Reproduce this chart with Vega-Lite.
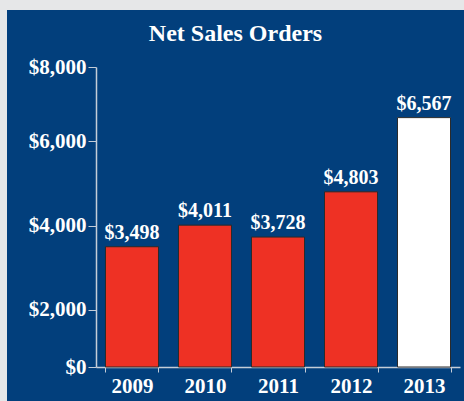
{
  "$schema": "https://vega.github.io/schema/vega-lite/v6.json",
  "width": 457,
  "height": 391,
  "autosize": "none",
  "padding": {"left": 7, "top": 10, "right": 0, "bottom": 0},
  "background": "#e6e7e8",
  "config": {
    "view": {"fill": "#023f7c", "stroke": null},
    "font": "Liberation Serif"
  },
  "title": {
    "text": "Net Sales Orders",
    "font": "Liberation Serif",
    "fontWeight": "bold",
    "fontSize": 24,
    "color": "white",
    "anchor": "middle",
    "baseline": "alphabetic",
    "offset": -55
  },
  "data": {
    "values": [
      {"year": "2009", "sales": 3498, "kind": "past"},
      {"year": "2010", "sales": 4011, "kind": "past"},
      {"year": "2011", "sales": 3728, "kind": "past"},
      {"year": "2012", "sales": 4803, "kind": "past"},
      {"year": "2013", "sales": 6567, "kind": "current"}
    ]
  },
  "encoding": {
    "x": {
      "field": "year",
      "type": "nominal",
      "sort": null,
      "scale": {"range": [89, 453], "paddingInner": 0.274, "paddingOuter": 0.13},
      "axis": {
        "title": null,
        "offset": -34,
        "labelAngle": 0,
        "labelFont": "Liberation Serif",
        "labelFontWeight": "bold",
        "labelFontSize": 21,
        "labelColor": "white",
        "labelPadding": 3,
        "tickBand": "extent",
        "tickSize": 5,
        "tickColor": "#c5cdd8",
        "domainColor": "#c5cdd8",
        "domainWidth": 1.5
      }
    },
    "y": {
      "field": "sales",
      "type": "quantitative",
      "scale": {"domain": [640, 7770], "range": [357, 57], "zero": false, "nice": false},
      "axis": {
        "title": null,
        "grid": false,
        "offset": -89,
        "values": [640, 2000, 4000, 6000, 7770],
        "labelExpr": "datum.value < 1000 ? '$0' : datum.value > 7000 ? '$8,000' : '$' + format(datum.value, ',')",
        "labelFont": "Liberation Serif",
        "labelFontWeight": "bold",
        "labelFontSize": 21,
        "labelColor": "white",
        "labelPadding": 2,
        "tickSize": 8,
        "tickColor": "#c5cdd8",
        "domainColor": "#c5cdd8",
        "domainWidth": 1.5
      }
    }
  },
  "layer": [
    {
      "mark": {"type": "bar", "stroke": "#2b2b2b", "strokeWidth": 1},
      "encoding": {
        "y2": {"datum": 640},
        "color": {
          "field": "kind",
          "type": "nominal",
          "scale": {"domain": ["past", "current"], "range": ["#ee3124", "#ffffff"]},
          "legend": null
        }
      }
    },
    {
      "mark": {
        "type": "text",
        "baseline": "alphabetic",
        "dy": -8,
        "font": "Liberation Serif",
        "fontWeight": "bold",
        "fontSize": 20,
        "color": "white"
      },
      "encoding": {
        "text": {"field": "sales", "type": "quantitative", "format": "$,.0f"}
      }
    }
  ]
}
